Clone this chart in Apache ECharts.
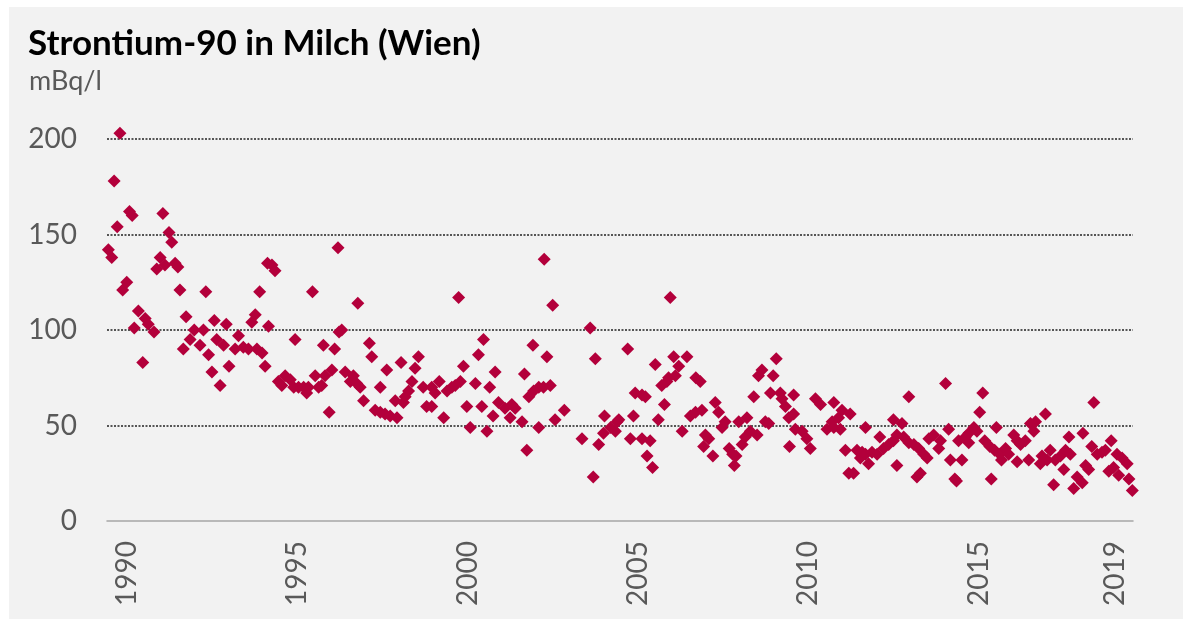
<!DOCTYPE html>
<html>
<head>
<meta charset="utf-8">
<title>Strontium-90 in Milch (Wien)</title>
<script src="https://cdn.jsdelivr.net/npm/echarts@6/dist/echarts.min.js"></script>
<style>
  html, body { margin: 0; padding: 0; background: #fff; }
  #chart { position: absolute; left: 9px; top: 7px; width: 1174px; height: 612px; background: #f2f2f2; }
</style>
</head>
<body>
<div id="chart"></div>
<script>
const sr90_1989_1994 = [
  [1989.46, 142], [1989.56, 138], [1989.63, 178], [1989.72, 154], [1989.8, 203], [1989.88, 121],
  [1990.0, 125], [1990.08, 162], [1990.16, 160], [1990.22, 101], [1990.34, 110], [1990.47, 83],
  [1990.54, 106], [1990.63, 103], [1990.8, 99], [1990.88, 132], [1990.98, 138], [1991.06, 161],
  [1991.12, 134], [1991.24, 151], [1991.32, 146], [1991.42, 135], [1991.5, 133], [1991.56, 121],
  [1991.66, 90], [1991.74, 107], [1991.86, 95], [1991.98, 100], [1992.15, 92], [1992.25, 100],
  [1992.32, 120], [1992.4, 87], [1992.5, 78], [1992.57, 105], [1992.64, 95], [1992.74, 71],
  [1992.84, 92], [1992.92, 103], [1993.0, 81], [1993.18, 90], [1993.28, 97], [1993.42, 91],
  [1993.57, 90], [1993.67, 104], [1993.77, 108], [1993.82, 90], [1993.9, 120], [1993.97, 88],
  [1994.06, 81], [1994.13, 135], [1994.16, 102], [1994.26, 134], [1994.35, 131]
]
const sr90_1994_1999 = [
  [1994.45, 73], [1994.55, 71], [1994.65, 76], [1994.8, 74], [1994.9, 70], [1994.94, 95],
  [1995.04, 70], [1995.19, 70], [1995.28, 67], [1995.33, 70], [1995.45, 120], [1995.53, 76],
  [1995.63, 70], [1995.72, 71], [1995.77, 92], [1995.82, 76], [1995.94, 57], [1996.02, 79],
  [1996.1, 90], [1996.2, 143], [1996.23, 99], [1996.31, 100], [1996.41, 78], [1996.56, 73],
  [1996.65, 76], [1996.75, 72], [1996.78, 114], [1996.85, 70], [1996.95, 63], [1997.12, 93],
  [1997.19, 86], [1997.29, 58], [1997.44, 57], [1997.44, 70], [1997.58, 56], [1997.63, 79],
  [1997.73, 55], [1997.88, 63], [1997.93, 54], [1998.05, 83], [1998.12, 62], [1998.17, 65],
  [1998.27, 68], [1998.37, 73], [1998.46, 80], [1998.56, 86], [1998.7, 70], [1998.8, 60],
  [1998.95, 70], [1998.95, 60], [1999.05, 67], [1999.17, 73], [1999.3, 54], [1999.4, 68],
  [1999.54, 70], [1999.64, 71], [1999.74, 117], [1999.79, 73], [1999.88, 81]
]
const sr90_2000_2004 = [
  [1999.98, 60], [2000.08, 49], [2000.23, 72], [2000.32, 87], [2000.42, 60], [2000.47, 95],
  [2000.57, 47], [2000.65, 70], [2000.75, 55], [2000.81, 78], [2000.91, 62], [2001.1, 59],
  [2001.25, 54], [2001.3, 61], [2001.4, 59], [2001.6, 52], [2001.67, 77], [2001.74, 37],
  [2001.8, 65], [2001.92, 92], [2001.94, 68], [2002.09, 70], [2002.09, 49], [2002.23, 70],
  [2002.25, 137], [2002.33, 86], [2002.43, 71], [2002.5, 113], [2002.57, 53], [2002.84, 58],
  [2003.36, 43], [2003.6, 101], [2003.69, 23], [2003.75, 85], [2003.85, 40], [2003.99, 46],
  [2004.02, 55], [2004.2, 49], [2004.34, 47], [2004.39, 52], [2004.44, 53], [2004.7, 90],
  [2004.78, 43], [2004.87, 55], [2004.92, 67]
]
const sr90_2005_2009 = [
  [2005.12, 66], [2005.12, 43], [2005.22, 65], [2005.27, 34], [2005.36, 42], [2005.43, 28],
  [2005.51, 82], [2005.6, 53], [2005.7, 71], [2005.78, 61], [2005.85, 73], [2005.9, 75],
  [2005.95, 117], [2006.05, 86], [2006.1, 76], [2006.2, 81], [2006.3, 47], [2006.44, 86],
  [2006.54, 55], [2006.69, 57], [2006.7, 75], [2006.83, 73], [2006.88, 58], [2006.93, 39],
  [2006.98, 45], [2007.08, 43], [2007.2, 34], [2007.27, 62], [2007.37, 57], [2007.47, 49],
  [2007.56, 52], [2007.68, 38], [2007.78, 35], [2007.83, 29], [2007.88, 34], [2007.96, 52],
  [2008.06, 40], [2008.15, 44], [2008.2, 54], [2008.3, 47], [2008.4, 65], [2008.5, 45],
  [2008.54, 76], [2008.64, 79], [2008.74, 52], [2008.84, 51], [2008.89, 67], [2008.97, 76],
  [2009.06, 85], [2009.18, 67], [2009.23, 64], [2009.33, 60], [2009.43, 54], [2009.45, 39],
  [2009.57, 66], [2009.57, 56], [2009.62, 48], [2009.82, 47], [2009.96, 43]
]
const sr90_2010_2014 = [
  [2010.06, 38], [2010.21, 64], [2010.36, 61], [2010.55, 48], [2010.7, 52], [2010.75, 62],
  [2010.75, 49], [2010.89, 54], [2010.94, 48], [2010.99, 58], [2011.09, 37], [2011.19, 25],
  [2011.23, 56], [2011.33, 25], [2011.43, 37], [2011.53, 33], [2011.58, 36], [2011.68, 49],
  [2011.68, 35], [2011.77, 30], [2011.87, 36], [2012.02, 35], [2012.1, 44], [2012.21, 38],
  [2012.36, 40], [2012.5, 42], [2012.5, 53], [2012.6, 45], [2012.6, 29], [2012.75, 51],
  [2012.8, 44], [2012.95, 65], [2012.95, 41], [2013.1, 40], [2013.19, 23], [2013.24, 38],
  [2013.29, 25], [2013.39, 35], [2013.49, 33], [2013.54, 43], [2013.68, 45], [2013.83, 38],
  [2013.88, 42], [2014.03, 72], [2014.12, 48], [2014.17, 32], [2014.3, 22], [2014.35, 21],
  [2014.41, 42], [2014.51, 32], [2014.61, 44], [2014.71, 41], [2014.71, 46], [2014.86, 49],
  [2014.95, 47]
]
const sr90_2015_2019 = [
  [2015.03, 57], [2015.12, 67], [2015.18, 42], [2015.33, 39], [2015.37, 22], [2015.47, 37],
  [2015.52, 49], [2015.62, 35], [2015.67, 32], [2015.79, 38], [2015.88, 35], [2016.03, 45],
  [2016.13, 42], [2016.13, 31], [2016.23, 40], [2016.37, 42], [2016.47, 32], [2016.52, 51],
  [2016.62, 47], [2016.67, 52], [2016.81, 30], [2016.86, 34], [2016.96, 56], [2017.01, 32],
  [2017.1, 37], [2017.2, 19], [2017.25, 32], [2017.4, 34], [2017.5, 27], [2017.55, 37],
  [2017.65, 44], [2017.69, 35], [2017.79, 17], [2017.89, 23], [2018.04, 20], [2018.06, 46],
  [2018.14, 29], [2018.23, 27], [2018.32, 39], [2018.38, 62], [2018.48, 35], [2018.62, 36],
  [2018.72, 37], [2018.82, 26], [2018.89, 42], [2018.96, 28], [2019.06, 35], [2019.11, 24],
  [2019.21, 33], [2019.36, 30], [2019.41, 22], [2019.51, 16]
]

// Achsenbeschriftungen
const yearLabels = [1990, 1995, 2000, 2005, 2010, 2015, 2019]
const valueTicks = [0, 50, 100, 150, 200]

const allPoints = [].concat(sr90_1989_1994, sr90_1994_1999, sr90_2000_2004,
  sr90_2005_2009, sr90_2010_2014, sr90_2015_2019)

const chart = echarts.init(document.getElementById('chart'))

chart.setOption({
  animation: false,
  textStyle: { fontFamily: 'Lato, sans-serif' },
  title: [{
    text: 'Strontium-90 in Milch (Wien)',
    left: 19,
    top: 19,
    padding: 0,
    textStyle: { fontFamily: 'Lato', fontWeight: 'bold', fontSize: 35, color: '#000' }
  }, {
    text: 'mBq/l',
    left: 20,
    top: 61,
    padding: 0,
    textStyle: { fontFamily: 'Lato', fontWeight: 'normal', fontSize: 27, color: '#595959' }
  }],
  grid: { left: 98, right: 50, top: 132, bottom: 98 },
  xAxis: {
    type: 'value',
    min: 1989.42,
    max: 2019.53,
    axisLine: { lineStyle: { color: '#a6a6a6', width: 1.5 } },
    axisTick: { show: false },
    splitLine: { show: false },
    axisLabel: {
      customValues: yearLabels,
      rotate: 90,
      margin: 20,
      fontSize: 28,
      color: '#595959',
      formatter: v => String(v)
    }
  },
  yAxis: {
    type: 'value',
    min: valueTicks[0],
    max: valueTicks[valueTicks.length - 1],
    interval: 50,
    axisLine: { show: false },
    axisTick: { show: false },
    axisLabel: { margin: 30, fontSize: 28, color: '#595959' },
    splitLine: {
      showMinLine: false,
      lineStyle: { color: '#555555', width: 2, type: [2, 1.5] }
    }
  },
  series: [{
    type: 'scatter',
    symbol: 'diamond',
    symbolSize: 13,
    clip: false,
    itemStyle: { color: '#b3003b', opacity: 1 },
    data: allPoints
  }]
})
</script>
</body>
</html>
